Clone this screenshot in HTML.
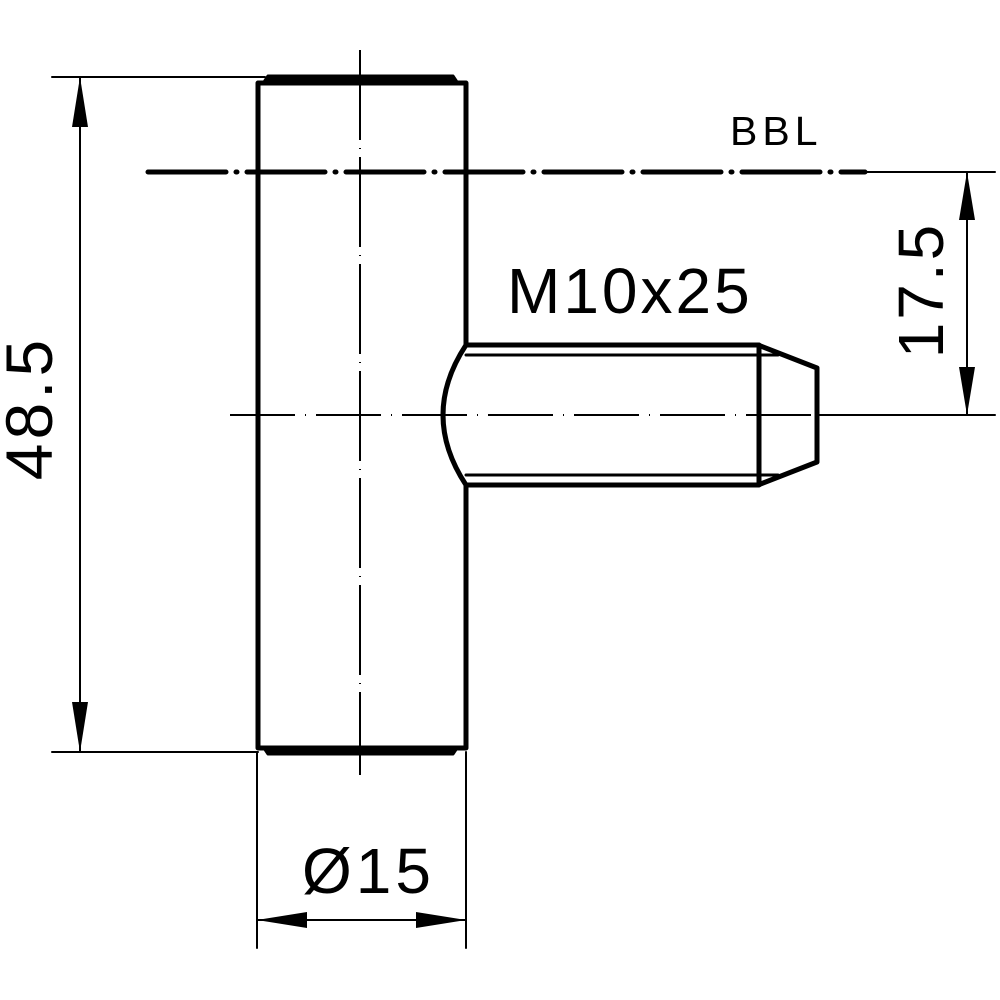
<!DOCTYPE html>
<html><head><meta charset="utf-8"><style>html,body{margin:0;padding:0;background:#fff}svg{display:block}</style></head>
<body>
<svg width="1000" height="1000" viewBox="0 0 1000 1000" xmlns="http://www.w3.org/2000/svg">
<g stroke="#000" fill="none" stroke-linecap="round" stroke-linejoin="round">
<line x1="52" y1="77" x2="265" y2="77" stroke-width="2"/>
<line x1="52" y1="752" x2="258" y2="752" stroke-width="2"/>
<line x1="80" y1="77" x2="80" y2="752" stroke-width="2"/>
<line x1="865" y1="172" x2="995" y2="172" stroke-width="2"/>
<line x1="815" y1="415" x2="995" y2="415" stroke-width="2"/>
<line x1="967" y1="172" x2="967" y2="415" stroke-width="2"/>
<line x1="257" y1="752" x2="257" y2="948" stroke-width="2"/>
<line x1="466" y1="752" x2="466" y2="948" stroke-width="2"/>
<line x1="257" y1="920" x2="466" y2="920" stroke-width="2"/>
<rect x="258" y="83" width="208" height="665" stroke-width="5"/>
<path d="M268 76 L453 76 L457 82 L264 82 Z" fill="#000" stroke-width="3"/>
<path d="M268 754 L453 754 L457 748 L264 748 Z" fill="#000" stroke-width="3"/>
<line x1="360" y1="50" x2="360" y2="775" stroke-width="2" stroke-dasharray="90,8,1,8" stroke-linecap="butt"/>
<line x1="230" y1="415" x2="1000" y2="415" stroke-width="2" stroke-dasharray="65,10,1,10" stroke-linecap="butt"/>
<line x1="148" y1="172" x2="865" y2="172" stroke-width="5" stroke-dasharray="78,10,1,10" />
<path d="M466 345 L758 345 L817 368 L817 462 L758 485 L466 485" fill="#fff" stroke-width="5"/>
<path d="M466 345 Q420 415 466 485" fill="#fff" stroke-width="5"/>
<line x1="466" y1="355" x2="778" y2="355" stroke-width="3"/>
<line x1="466" y1="475" x2="778" y2="475" stroke-width="3"/>
<line x1="759" y1="345" x2="759" y2="485" stroke-width="5"/>
<line x1="230" y1="415" x2="1000" y2="415" stroke-width="2" stroke-dasharray="65,10,1,10" stroke-linecap="butt"/>
</g>
<g fill="#000">
<polygon points="80,77 72,127 88,127"/>
<polygon points="80,752 72,702 88,702"/>
<polygon points="967,172 959,220 975,220"/>
<polygon points="967,415 959,367 975,367"/>
<polygon points="257,920 307,912 307,928"/>
<polygon points="466,920 416,912 416,928"/>
</g>
<g font-family="Liberation Sans, sans-serif" fill="#000" font-weight="normal">
<text x="730" y="145" font-size="41" letter-spacing="5">BBL</text>
<text x="507" y="313" font-size="64" letter-spacing="3">M10x25</text>
<text x="302" y="893" font-size="64" letter-spacing="4">Ø15</text>
<text transform="translate(52,408) rotate(-90)" text-anchor="middle" font-size="66" letter-spacing="4">48.5</text>
<text transform="translate(943,290) rotate(-90)" text-anchor="middle" font-size="64" letter-spacing="3">17.5</text>
</g>
</svg>
</body></html>
